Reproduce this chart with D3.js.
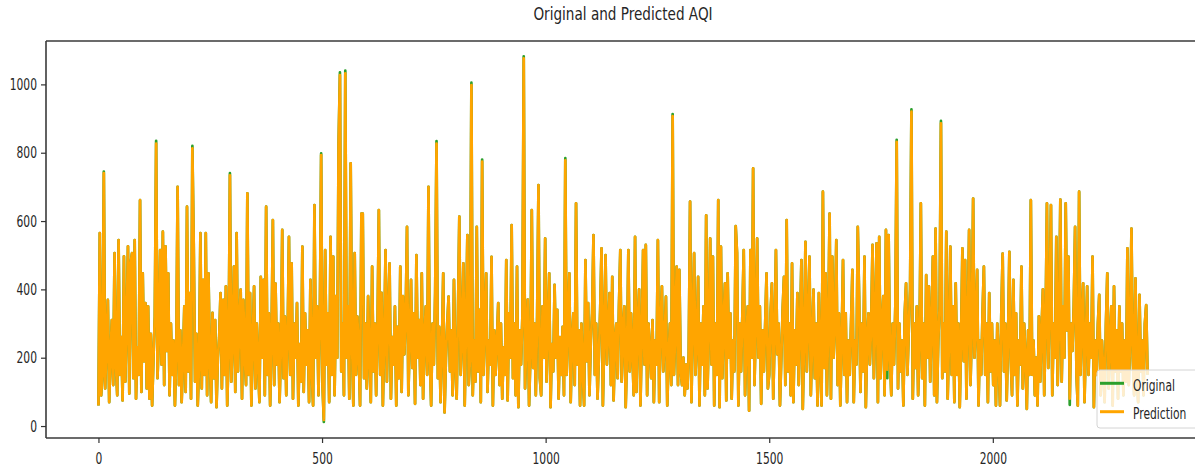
<!DOCTYPE html>
<html>
<head>
<meta charset="utf-8">
<script src="https://d3js.org/d3.v7.min.js"></script>
<style>
  html, body { margin: 0; padding: 0; background: #fff; }
  svg { display: block; font-family: 'DejaVu Sans', sans-serif; }
</style>
</head>
<body>
<div id="chart"></div>
<script>
// one value every 3 samples
var sampleStep = 3
var xTicks = [0, 500, 1000, 1500, 2000]
var yTicks = [0, 200, 400, 600, 800, 1000]
var seriesNames = ['Original', 'Prediction']
var chartTitle = 'Original and Predicted AQI'

var aqiOriginal = [
  60,565,90,150,745,110,240,369,70,210,310,120,506,180,90,544,150,260,75,497,
  130,300,526,95,476,506,140,544,80,230,150,661,100,447,190,360,110,350,80,270,
  60,200,320,835,140,260,515,180,569,120,526,220,447,90,300,150,250,60,210,700,
  120,280,70,190,350,100,642,160,389,80,820,535,130,270,60,180,565,110,428,150,
  565,90,447,200,70,331,140,310,55,200,260,389,110,369,150,409,60,220,740,130,
  250,467,100,565,160,300,399,80,369,210,120,681,150,389,60,250,409,110,300,180,
  70,437,200,428,90,642,150,330,60,250,603,120,417,180,300,70,230,574,140,320,
  90,260,554,150,476,80,300,200,360,60,240,130,525,100,330,180,280,70,428,160,
  60,647,200,350,90,300,798,120,12,515,180,330,70,554,150,496,90,380,200,827,
  1035,160,300,90,1040,200,350,80,769,250,60,506,150,320,210,60,622,622,140,300,
  110,380,200,70,467,160,300,90,280,632,150,390,60,250,515,130,330,476,80,260,
  180,350,60,290,140,467,100,380,210,320,583,90,250,428,170,330,65,500,200,310,
  120,447,80,260,350,150,700,200,60,300,180,390,834,140,290,70,230,447,40,200,
  300,379,160,280,90,428,180,80,330,613,150,260,476,60,300,559,120,200,1005,90,
  250,130,583,160,340,70,780,150,300,447,100,250,180,495,60,280,150,250,360,120,
  300,80,230,150,486,75,330,200,588,140,300,90,467,55,280,180,320,1082,110,260,
  370,60,210,632,170,300,90,320,705,140,90,350,200,549,130,300,447,55,240,160,
  413,200,340,80,260,150,290,90,784,150,300,447,70,250,330,120,652,180,280,60,
  300,160,60,486,190,360,90,250,330,559,150,300,80,200,340,520,60,260,500,180,
  280,389,120,437,75,250,300,140,350,515,130,280,350,55,210,515,160,330,210,90,
  554,100,300,400,60,260,515,180,530,90,300,220,140,310,70,250,180,544,70,300,
  409,160,250,379,60,200,300,120,913,150,280,467,120,457,160,120,200,90,180,110,
  210,657,70,300,506,150,250,437,60,300,180,350,90,617,110,280,549,180,496,60,
  300,150,661,55,525,140,300,418,75,447,200,330,80,250,160,585,506,60,300,160,
  330,515,90,250,350,45,515,200,754,120,300,549,200,350,65,280,160,300,447,110,
  150,330,418,80,260,515,210,300,60,200,340,437,120,603,160,300,90,476,70,280,
  180,389,120,300,486,50,250,539,160,300,496,90,250,399,140,300,60,389,180,60,
  686,170,447,90,300,622,80,496,200,300,544,120,330,60,250,486,150,330,70,250,
  150,300,457,70,250,180,583,379,100,300,160,496,55,250,330,180,300,530,140,300,
  535,70,554,140,300,380,90,574,140,559,200,90,300,180,350,838,110,300,160,250,
  60,330,418,150,280,400,927,80,300,170,350,90,250,652,140,300,60,442,200,409,
  130,300,496,90,578,70,250,350,893,140,300,160,569,80,250,525,150,350,70,418,
  150,300,55,250,520,190,486,80,300,574,120,280,666,200,300,457,60,250,150,330,
  467,150,300,70,389,160,300,120,250,60,300,200,60,330,505,160,300,75,250,510,
  200,90,428,150,330,60,250,180,467,110,300,200,50,280,150,661,150,250,90,200,
  60,321,130,280,400,90,300,652,170,350,647,90,300,200,554,120,300,663,130,350,
  200,652,280,496,62,300,220,350,583,150,60,686,150,300,418,70,250,409,150,300,
  200,496,55,250,150,300,384,90,250,160,70,300,447,110,250,350,60,409,160,280,
  80,350,160,300,90,250,130,520,120,250,578,200,90,432,150,70,384,160,250,90,300,354,150
]

var aqiPredicted = [
  60,565,90,150,740,110,240,369,70,210,310,120,506,180,90,544,150,260,75,497,
  130,300,526,95,476,506,140,544,80,230,150,661,100,447,190,360,110,350,80,270,
  60,200,320,827,140,260,515,180,569,120,526,220,447,90,300,150,250,60,210,700,
  120,280,70,190,350,100,642,160,389,80,813,535,130,270,60,180,565,110,428,150,
  565,90,447,200,70,331,140,310,55,200,260,389,110,369,150,409,60,220,734,130,
  250,467,100,565,160,300,399,80,369,210,120,681,150,389,60,250,409,110,300,180,
  70,437,200,428,90,642,150,330,60,250,603,120,417,180,300,70,230,574,140,320,
  90,260,554,150,476,80,300,200,360,60,240,130,525,100,330,180,280,70,428,160,
  60,647,200,350,90,300,793,120,18,515,180,330,70,554,150,496,90,380,200,827,
  1027,160,300,90,1032,200,350,80,769,250,60,506,150,320,210,60,622,622,140,300,
  110,380,200,70,467,160,300,90,280,632,150,390,60,250,515,130,330,476,80,260,
  180,350,60,290,140,467,100,380,210,320,583,90,250,428,170,330,65,500,200,310,
  120,447,80,260,350,150,700,200,60,300,180,390,827,140,290,70,230,447,40,200,
  300,379,160,280,90,428,180,80,330,613,150,260,476,60,300,559,120,200,998,90,
  250,130,583,160,340,70,774,150,300,447,100,250,180,495,60,280,150,250,360,120,
  300,80,230,150,486,75,330,200,588,140,300,90,467,55,280,180,320,1076,110,260,
  370,60,210,632,170,300,90,320,705,140,90,350,200,549,130,300,447,55,240,160,
  413,200,340,80,260,150,290,90,778,150,300,447,70,250,330,120,652,180,280,60,
  300,160,60,486,190,360,90,250,330,559,150,300,80,200,340,520,60,260,500,180,
  280,389,120,437,75,250,300,140,350,515,130,280,350,55,210,515,160,330,210,90,
  554,100,300,400,60,260,515,180,530,90,300,220,140,310,70,250,180,544,70,300,
  409,160,250,379,60,200,300,120,907,150,280,467,120,457,160,120,200,90,180,110,
  210,657,70,300,506,150,250,437,60,300,180,350,90,617,110,280,549,180,496,60,
  300,150,661,55,525,140,300,418,75,447,200,330,80,250,160,585,506,60,300,160,
  330,515,90,250,350,45,515,200,754,120,300,549,200,350,65,280,160,300,447,110,
  150,330,418,80,260,515,210,300,60,200,340,437,120,603,160,300,90,476,70,280,
  180,389,120,300,486,50,250,539,160,300,496,90,250,399,140,300,60,389,180,60,
  686,170,447,90,300,622,80,496,200,300,544,120,330,60,250,486,150,330,70,250,
  150,300,457,70,250,180,583,379,100,300,160,496,55,250,330,180,300,530,140,300,
  535,70,554,140,300,380,90,574,165,559,200,90,300,180,350,832,110,300,160,250,
  60,330,418,150,280,400,920,80,300,170,350,90,250,652,140,300,60,442,200,409,
  130,300,496,90,578,70,250,350,886,140,300,160,569,80,250,525,150,350,70,418,
  150,300,55,250,520,190,486,80,300,574,120,280,666,200,300,457,60,250,150,330,
  467,150,300,70,389,160,300,120,250,60,300,200,60,330,505,160,300,75,250,510,
  200,90,428,150,330,60,250,180,467,110,300,200,50,280,150,661,150,250,90,200,
  60,321,130,280,400,90,300,652,170,350,647,90,300,200,554,120,300,663,130,350,
  200,652,280,496,80,300,220,350,583,150,60,686,150,300,418,70,250,409,150,300,
  200,496,55,250,150,300,384,90,250,160,70,300,447,110,250,350,60,409,160,280,
  80,350,160,300,90,250,130,520,120,250,578,200,90,432,150,70,384,160,250,90,300,354,150
]

var seriesColors = ['#2ca02c', '#ffa500']

;(function() {
  var width = 1195
  var height = 468
  var plot = {left: 46, right: 1200, top: 41, bottom: 438}
  var textScale = 0.67

  var svg = d3.select('#chart').append('svg')
    .attr('width', width)
    .attr('height', height)

  svg.append('rect')
    .attr('width', width)
    .attr('height', height)
    .attr('fill', '#fff')

  // matplotlib style 5% margins on x
  var lastIndex = (aqiPredicted.length - 1) * sampleStep
  var pad = lastIndex * 0.05
  var x = d3.scaleLinear()
    .domain([-pad, lastIndex + pad])
    .range([plot.left, plot.right])

  var y = d3.scaleLinear()
    .domain([-35, 1127])
    .range([plot.bottom, plot.top])

  svg.append('clipPath').attr('id', 'plot-clip')
    .append('rect')
    .attr('x', plot.left)
    .attr('y', plot.top)
    .attr('width', plot.right - plot.left)
    .attr('height', plot.bottom - plot.top)

  var line = d3.line()
    .x(function(d, i) { return x(i * sampleStep) })
    .y(function(d) { return y(d) })

  var series = [aqiOriginal, aqiPredicted]
  series.forEach(function(values, k) {
    svg.append('path')
      .datum(values)
      .attr('clip-path', 'url(#plot-clip)')
      .attr('fill', 'none')
      .attr('stroke', seriesColors[k])
      .attr('stroke-width', 2.7)
      .attr('stroke-linejoin', 'round')
      .attr('d', line)
  })

  // spines
  var spines = svg.append('g')
    .attr('stroke', '#3a3a3a')
    .attr('stroke-width', 1.6)
  spines.append('line')
    .attr('x1', plot.left).attr('x2', plot.left)
    .attr('y1', plot.top).attr('y2', plot.bottom)
  spines.append('line')
    .attr('x1', plot.left).attr('x2', plot.right)
    .attr('y1', plot.top).attr('y2', plot.top)
  spines.append('line')
    .attr('x1', plot.left).attr('x2', plot.right)
    .attr('y1', plot.bottom).attr('y2', plot.bottom)

  var xAxis = d3.axisBottom(x)
    .tickValues(xTicks)
    .tickFormat(d3.format('d'))
    .tickSize(5)
    .tickPadding(10)
  var gx = svg.append('g')
    .attr('transform', 'translate(0,' + plot.bottom + ')')
    .call(xAxis)
  gx.select('.domain').remove()

  var yAxis = d3.axisLeft(y)
    .tickValues(yTicks)
    .tickFormat(d3.format('d'))
    .tickSize(5)
    .tickPadding(4)
  var gy = svg.append('g')
    .attr('transform', 'translate(' + plot.left + ',0)')
    .call(yAxis)
  gy.select('.domain').remove()

  svg.selectAll('.tick line').attr('stroke', '#333').attr('stroke-width', 1.2)
  svg.selectAll('.tick text')
    .attr('font-size', 16)
    .attr('font-family', 'DejaVu Sans, sans-serif')
    .attr('fill', '#262626')
  gx.selectAll('.tick text').attr('transform', 'scale(' + textScale + ',1)')
  gy.selectAll('.tick text')
    .attr('x', 0)
    .attr('transform', 'translate(-9,0) scale(' + textScale + ',1)')

  svg.append('text')
    .attr('transform', 'translate(' + (plot.left + plot.right) / 2 + ',19.5) scale(0.755,1)')
    .attr('text-anchor', 'middle')
    .attr('font-size', 18)
    .attr('fill', '#262626')
    .text(chartTitle)

  // legend, lower right
  var legend = svg.append('g')
    .attr('transform', 'translate(1097,370)')
  legend.append('rect')
    .attr('width', 112)
    .attr('height', 58)
    .attr('rx', 3)
    .attr('fill', '#fff')
    .attr('fill-opacity', 0.8)
    .attr('stroke', '#d4d4d4')
  seriesNames.forEach(function(name, k) {
    var ly = 13.3 + k * 28.4
    legend.append('line')
      .attr('x1', 3).attr('x2', 27)
      .attr('y1', ly).attr('y2', ly)
      .attr('stroke', seriesColors[k])
      .attr('stroke-width', 3)
    legend.append('text')
      .attr('transform', 'translate(36,' + (ly + 7.5) + ') scale(' + textScale + ',1)')
      .attr('font-size', 16)
      .attr('fill', '#262626')
      .text(name)
  })
})()
</script>
</body>
</html>
